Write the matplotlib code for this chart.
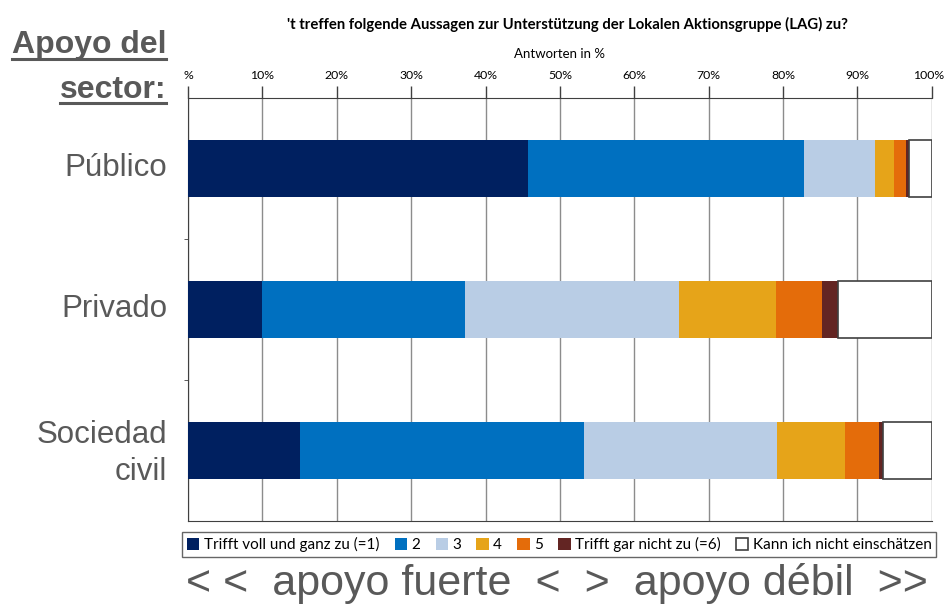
import matplotlib.pyplot as plt
import numpy as np
from matplotlib.lines import Line2D
from matplotlib.transforms import ScaledTranslation

sectores = ["Público", "Privado", "Sociedad\ncivil"]
respuestas = ["Trifft voll und ganz zu (=1)", "2", "3", "4", "5",
              "Trifft gar nicht zu (=6)", "Kann ich nicht einschätzen"]
# Antworten in % (pro Sektor, Reihenfolge wie respuestas)
r1 = [45.7, 10.0, 15.1]
r2 = [37.1, 27.2, 38.2]
r3 = [9.6, 28.8, 25.9]
r4 = [2.5, 13.0, 9.2]
r5 = [1.7, 6.2, 4.5]
r6 = [0.3, 2.2, 0.6]
r_kann = [3.1, 12.6, 6.5]
tick_labels = ["%", "10%", "20%", "30%", "40%", "50%", "60%", "70%", "80%", "90%", "100%"]

colores = ["#002060", "#0070C0", "#B9CDE5", "#E6A419", "#E46C0A", "#632523", "#FFFFFF"]
gris = "#595959"

fig = plt.figure(figsize=(9.45, 6.05), dpi=100)
ax = fig.add_axes([0.199, 0.139, 0.787, 0.699])

y = np.arange(len(sectores))
left = np.zeros(len(sectores))
for vals, col, lab in zip([r1, r2, r3, r4, r5, r6, r_kann], colores, respuestas):
    edge = "#404040" if col == "#FFFFFF" else "none"
    ax.barh(y, vals, left=left, height=0.41, color=col, edgecolor=edge,
            linewidth=1.2 if col == "#FFFFFF" else 0, label=lab, zorder=3)
    left += np.array(vals)

ax.set_xlim(0, 100)
ax.set_ylim(2.5, -0.5)
ax.set_xticks(np.arange(0, 101, 10))
ax.set_xticklabels(tick_labels, family="Lato", fontsize=8.8)
ax.xaxis.tick_top()
ax.tick_params(axis="x", length=9, width=1, color="#404040", pad=3)
ax.grid(axis="x", color="#8c8c8c", linewidth=1, zorder=0)
ax.set_xlabel("Antworten in %", family="Lato", fontsize=9.5, labelpad=9)
ax.xaxis.set_label_position("top")
last = ax.get_xticklabels()[-1]
last.set_transform(last.get_transform() + ScaledTranslation(-3 / 100, 0, fig.dpi_scale_trans))

ax.set_yticks(y)
ax.set_yticklabels(sectores, family="Liberation Sans", fontsize=22.5, color=gris, linespacing=1.3)
ax.tick_params(axis="y", length=0, pad=15)
for lbl in ax.get_yticklabels():
    lbl.set_transform(lbl.get_transform() + ScaledTranslation(0, 4 / 100, fig.dpi_scale_trans))
ax.set_yticks([0.5, 1.5], minor=True)
ax.tick_params(axis="y", which="minor", length=3, color="#404040")
for s in ["left", "bottom", "top"]:
    ax.spines[s].set_color("#404040")
ax.spines["right"].set_visible(False)

fig.text(0.304, 0.96, "'t treffen folgende Aussagen zur Unterstützung der Lokalen Aktionsgruppe (LAG) zu?",
         family="Lato", fontweight="bold", fontsize=10.7, ha="left", va="center")

leg = fig.legend(loc="center", bbox_to_anchor=(0.592, 0.1), ncol=7, prop={"family": "Lato", "size": 11},
                 frameon=True, fancybox=False, edgecolor="#404040", handlelength=0.8, handleheight=0.8,
                 handletextpad=0.3, columnspacing=1.0, borderpad=0.3, borderaxespad=0)
leg.get_frame().set_linewidth(1)

fig.text(0.589, 0.036, "< <  apoyo fuerte  <  >  apoyo débil  >>", family="Liberation Sans",
         fontsize=31, color=gris, ha="center", va="center")

t1 = fig.text(0.176, 0.926, "Apoyo del", family="Liberation Sans",
              fontweight="bold", fontsize=23, color=gris, ha="right", va="center")
t2 = fig.text(0.176, 0.852, "sector:", family="Liberation Sans",
              fontweight="bold", fontsize=23, color=gris, ha="right", va="center")
fig.canvas.draw()
r = fig.canvas.get_renderer()
for t in [t1, t2]:
    bb = t.get_window_extent(r).transformed(fig.transFigure.inverted())
    fig.add_artist(Line2D([bb.x0, bb.x1], [bb.y0 + 0.002, bb.y0 + 0.002], color=gris, linewidth=2.2,
                          transform=fig.transFigure))

fig.savefig("out.png", dpi=100)
